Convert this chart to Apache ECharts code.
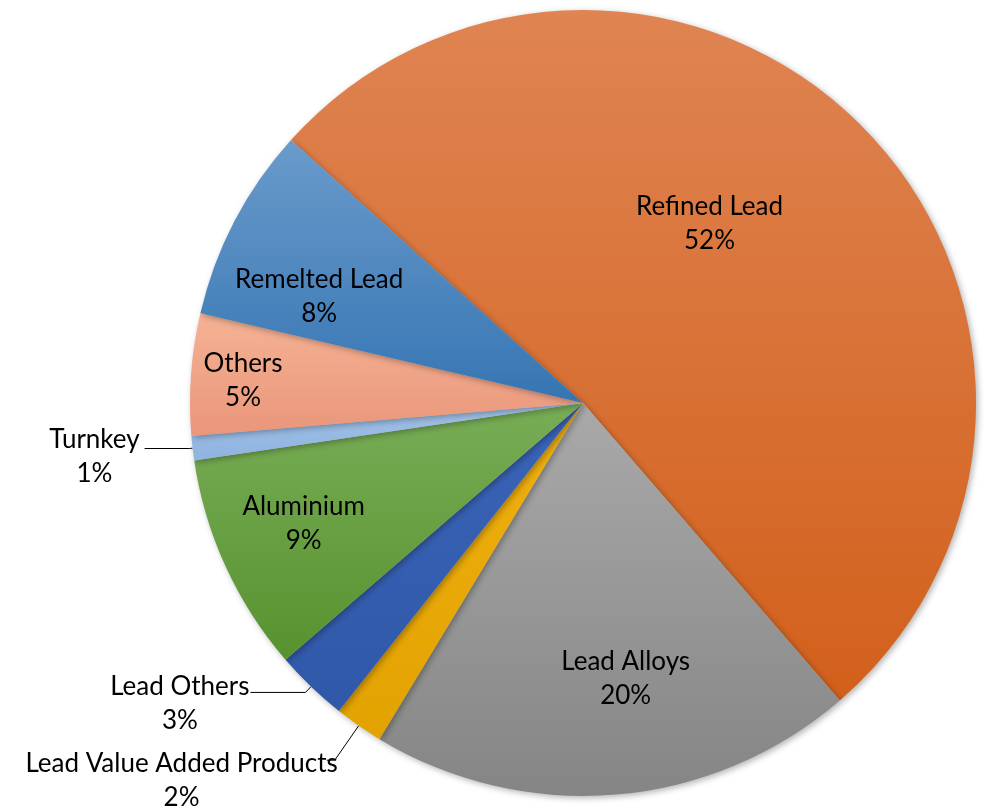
<!DOCTYPE html>
<html>
<head>
<meta charset="utf-8">
<script src="https://cdn.jsdelivr.net/npm/echarts@6/dist/echarts.min.js"></script>
<style>
  html, body { margin: 0; padding: 0; background: #fff; }
  #chart { width: 985px; height: 807px; }
</style>
</head>
<body>
<div id="chart"></div>
<script>
// slices, clockwise from the top-left edge of Refined Lead
const names = ['Refined Lead', 'Lead Alloys', 'Lead Value Added Products', 'Lead Others',
  'Aluminium', 'Turnkey', 'Others', 'Remelted Lead'];
const values = [52, 20, 2, 3, 9, 1, 5, 8];
// gradient colours, top -> bottom
const colorsTop = ['#df8452', '#a9a9a9', '#f0b010', '#3a64b8', '#78ad56', '#a2c2e8', '#f5b294', '#6a9bcb'];
const colorsBottom = ['#d2601b', '#858585', '#e2a200', '#2f58a8', '#57922f', '#8fb4e0', '#ea967a', '#3675b3'];
// slices whose label sits outside with a leader line
const outside = ['Turnkey', 'Lead Others', 'Lead Value Added Products'];
// label nudges in px
const labelShift = [[-16, -40], [26, 77], [16, 20], [4, 11], [-98, 38], [0, 8], [-141, -8], [-87, -14]];
const lineLen = { 'Turnkey': [3, 45], 'Lead Others': [8, 55], 'Lead Value Added Products': [42, 8] };

const chart = echarts.init(document.getElementById('chart'));

const data = names.map(function (n, i) {
  const item = {
    name: n,
    value: values[i],
    itemStyle: {
      color: new echarts.graphic.LinearGradient(0, 0, 0, 1, [
        { offset: 0, color: colorsTop[i] },
        { offset: 1, color: colorsBottom[i] }
      ])
    }
  };
  if (outside.indexOf(n) >= 0) {
    item.label = { position: 'outside' };
    item.labelLine = { show: true, length: lineLen[n][0], length2: lineLen[n][1] };
  }
  return item;
});

chart.setOption({
  animation: false,
  series: [{
    type: 'pie',
    center: [583, 403],
    radius: 393,
    startAngle: 138,
    clockwise: true,
    avoidLabelOverlap: false,
    itemStyle: {
      borderWidth: 0,
      shadowBlur: 6,
      shadowOffsetX: 2,
      shadowOffsetY: 2,
      shadowColor: 'rgba(0,0,0,0.3)'
    },
    label: {
      show: true,
      position: 'inside',
      fontFamily: 'Lato',
      fontSize: 26,
      lineHeight: 34,
      color: '#000',
      formatter: function (p) { return p.name + '\n' + Math.round(p.percent) + '%'; }
    },
    labelLine: {
      lineStyle: { color: '#000', width: 1 },
      smooth: false
    },
    labelLayout: function (p) {
      const s = labelShift[p.dataIndex];
      if (outside.indexOf(names[p.dataIndex]) >= 0) {
        return { align: 'center', dx: s[0] - p.labelRect.width / 2, dy: s[1] };
      }
      return { dx: s[0], dy: s[1] };
    },
    data: data
  }]
});
</script>
</body>
</html>
